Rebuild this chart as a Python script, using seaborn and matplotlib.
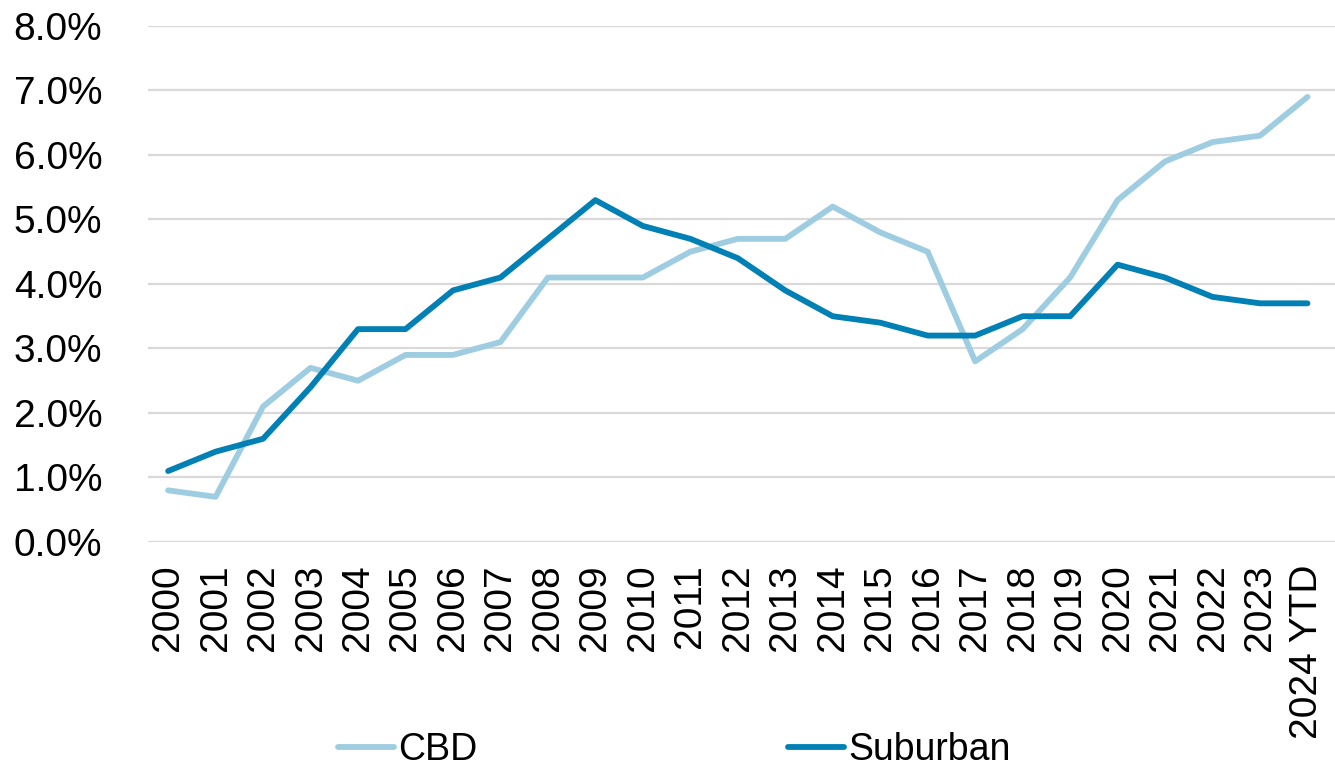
import matplotlib
matplotlib.use("Agg")
import numpy as np
import pandas as pd
import seaborn as sns
import matplotlib.pyplot as plt

years = ["2000", "2001", "2002", "2003", "2004", "2005", "2006", "2007", "2008",
         "2009", "2010", "2011", "2012", "2013", "2014", "2015", "2016", "2017",
         "2018", "2019", "2020", "2021", "2022", "2023", "2024 YTD"]
cbd = [0.8, 0.7, 2.1, 2.7, 2.5, 2.9, 2.9, 3.1, 4.1, 4.1, 4.1, 4.5, 4.7, 4.7,
       5.2, 4.8, 4.5, 2.8, 3.3, 4.1, 5.3, 5.9, 6.2, 6.3, 6.9]
suburban = [1.1, 1.4, 1.6, 2.4, 3.3, 3.3, 3.9, 4.1, 4.7, 5.3, 4.9, 4.7, 4.4,
            3.9, 3.5, 3.4, 3.2, 3.2, 3.5, 3.5, 4.3, 4.1, 3.8, 3.7, 3.7]
series = ["CBD", "Suburban"]
colors = ["#9ECDE1", "#0080B4"]

sns.set_theme(style="white")
plt.rcParams["font.family"] = ["Liberation Sans", "DejaVu Sans"]
plt.rcParams["text.color"] = "black"
plt.rcParams["xtick.color"] = "black"
plt.rcParams["ytick.color"] = "black"

df = pd.DataFrame({
    "pos": list(range(len(years))) * 2,
    "val": cbd + suburban,
    "series": ["CBD"] * len(years) + ["Suburban"] * len(years),
})

fig = plt.figure(figsize=(13.35, 7.67), dpi=100)
ax = fig.add_axes([0.111, 0.2934, 0.889, 0.6727])
sns.lineplot(data=df, x="pos", y="val", hue="series", hue_order=series,
             palette=dict(zip(series, colors)), linewidth=4.2, ax=ax)
for ln in ax.get_lines():
    ln.set_solid_capstyle("round")

ax.set_xlim(-0.42, 24.58)
ax.set_ylim(0, 8)
ax.set_yticks(np.arange(0, 9, 1))
ax.set_yticklabels([f"{v:.1f}%" for v in range(9)], fontsize=28)
ax.set_xticks(range(len(years)))
ax.set_xticklabels(years, rotation=90, fontsize=28)
ax.tick_params(axis="x", length=0, pad=16)
ax.tick_params(axis="y", length=0, pad=33)
ax.yaxis.grid(True, color="#D9D9D9", linewidth=1.6)
ax.xaxis.grid(False)
sns.despine(ax=ax, left=True, bottom=True)
ax.set_xlabel("")
ax.set_ylabel("")

ax.get_legend().remove()
handles = ax.get_lines()[:2]
fig.legend(handles, series, loc="lower center", bbox_to_anchor=(0.505, -0.045),
           ncol=2, frameon=False, handlelength=1.5,
           handletextpad=0.1, columnspacing=8.3,
           prop={"family": ["Liberation Sans"], "size": 27})

fig.savefig("out.png", dpi=100)
